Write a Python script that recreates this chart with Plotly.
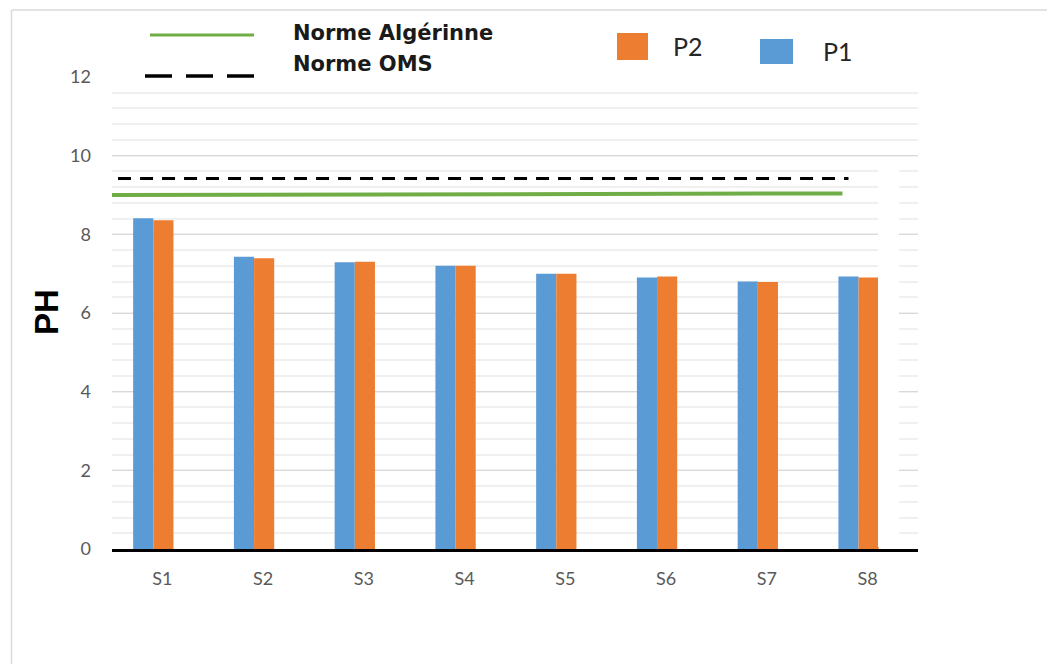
import plotly.graph_objects as go

# ---------------- data ----------------
categories = ["S1", "S2", "S3", "S4", "S5", "S6", "S7", "S8"]
p1_values = [8.41, 7.43, 7.29, 7.20, 7.00, 6.90, 6.80, 6.93]
p2_values = [8.36, 7.39, 7.30, 7.20, 7.00, 6.93, 6.79, 6.90]
norme_algerienne = [9.00, 9.04]   # as drawn (start, end)
norme_oms = [9.42, 9.42]
y_ticks = [0, 2, 4, 6, 8, 10, 12]

# ---------------- styles / positions ----------------
W, H = 1047, 664
L, R, T, B = 112, 918, 77, 549
BLUE, ORANGE, GREEN = "#5b9bd5", "#ed7d31", "#70ad47"
TICK_FONT = dict(family="Lato, Open Sans, sans-serif", size=18, color="#595959")


def px(x):
    return (x - L) / (R - L)


def py(y):
    return (B - y) / (B - T)


xpos = list(range(len(categories)))

fig = go.Figure()
fig.add_trace(go.Bar(x=xpos, y=p1_values, name="P1", width=0.2, offset=-0.29,
                     marker=dict(color=BLUE, line=dict(width=0)), showlegend=False))
fig.add_trace(go.Bar(x=xpos, y=p2_values, name="P2", width=0.2, offset=-0.09,
                     marker=dict(color=ORANGE, line=dict(width=0)), showlegend=False))

# white covering blocks (as in the original picture)
shapes = [
    dict(type="rect", xref="paper", yref="paper", x0=px(112), x1=px(904), y0=py(88), y1=py(66),
         fillcolor="white", line=dict(width=0), layer="above"),
    dict(type="rect", xref="paper", yref="paper", x0=px(878), x1=px(899), y0=py(547), y1=py(157.5),
         fillcolor="white", line=dict(width=0), layer="above"),
]

# reference lines (norms)
fig.add_trace(go.Scatter(x=[-0.51, 6.75], y=norme_algerienne, mode="lines",
                         line=dict(color=GREEN, width=4), showlegend=False, hoverinfo="skip"))
fig.add_trace(go.Scatter(x=[-0.44, 6.81], y=norme_oms, mode="lines",
                         line=dict(color="black", width=3, dash="13px,9px"), showlegend=False,
                         hoverinfo="skip"))

# frame borders
shapes += [
    dict(type="line", xref="paper", yref="paper", x0=px(11.5), x1=px(11.5), y0=py(10), y1=py(664),
         line=dict(color="#d9d9d9", width=1.5), layer="above"),
    dict(type="line", xref="paper", yref="paper", x0=px(11.5), x1=px(1047), y0=py(10), y1=py(10),
         line=dict(color="#d9d9d9", width=1.5), layer="above"),
]

# custom legend
shapes += [
    dict(type="line", xref="paper", yref="paper", x0=px(150), x1=px(254), y0=py(35), y1=py(35),
         line=dict(color=GREEN, width=3), layer="above"),
    dict(type="line", xref="paper", yref="paper", x0=px(145), x1=px(256), y0=py(76), y1=py(76),
         line=dict(color="black", width=3.5, dash="27px,14px"), layer="above"),
    dict(type="rect", xref="paper", yref="paper", x0=px(617), x1=px(648), y0=py(60), y1=py(33),
         fillcolor=ORANGE, line=dict(width=0), layer="above"),
    dict(type="rect", xref="paper", yref="paper", x0=px(760), x1=px(793), y0=py(64), y1=py(39),
         fillcolor=BLUE, line=dict(width=0), layer="above"),
]

LEG_BOLD = dict(family="DejaVu Sans", size=21, color="#1a1a1a", weight="bold")
LEG_REG = dict(family="Lato, Open Sans, sans-serif", size=25, color="#262626")
annotations = [
    dict(text="Norme Algérinne", x=px(291), y=py(33), font=LEG_BOLD),
    dict(text="Norme OMS", x=px(291), y=py(64), font=LEG_BOLD),
    dict(text="P2", x=px(671), y=py(46), font=LEG_REG),
    dict(text="P1", x=px(821), y=py(51), font=LEG_REG),
]
for a in annotations:
    a.update(xref="paper", yref="paper", xanchor="left", yanchor="middle", showarrow=False)

annotations.append(dict(text="<b>PH</b>", xref="paper", yref="paper", x=px(46), y=py(312),
                        textangle=-90, showarrow=False, xanchor="center", yanchor="middle",
                        font=dict(family="Liberation Sans, Arial, sans-serif", size=33,
                                  color="black")))

fig.update_layout(
    width=W, height=H,
    margin=dict(l=L, r=W - R, t=T, b=H - B, pad=0),
    paper_bgcolor="white", plot_bgcolor="white",
    barmode="overlay",
    shapes=shapes, annotations=annotations,
    xaxis=dict(range=[-0.5, 7.5], tickmode="array", tickvals=xpos, ticktext=categories,
               showgrid=False, zeroline=False, showline=True, linecolor="black", linewidth=3,
               ticks="", tickfont=TICK_FONT, ticklabelstandoff=11, fixedrange=True),
    yaxis=dict(range=[0, 12], tickmode="array", tickvals=y_ticks, showgrid=True,
               gridcolor="#d9d9d9", gridwidth=1, zeroline=False, showline=False, ticks="",
               tickfont=TICK_FONT, ticklabelstandoff=20,
               minor=dict(dtick=0.4, tick0=0, showgrid=True, gridcolor="#f0f0f0", gridwidth=1.5),
               fixedrange=True),
    showlegend=False,
)

fig.write_html("out.html", config={"displayModeBar": False},
               post_script="document.body.style.margin='0';document.body.style.padding='0';")
